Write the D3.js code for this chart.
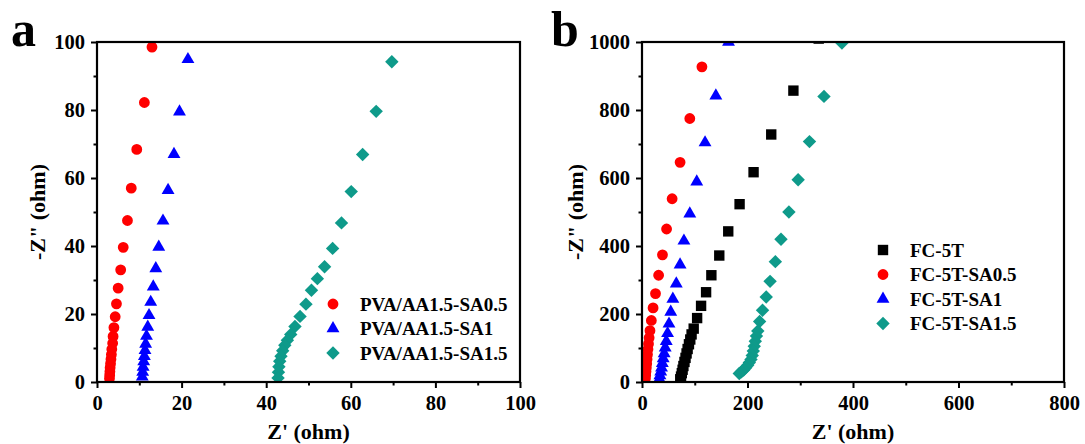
<!DOCTYPE html>
<html><head><meta charset="utf-8">
<script src="https://cdn.jsdelivr.net/npm/d3@7/dist/d3.min.js"></script>
<style>
html,body{margin:0;padding:0;background:#fff;}
svg text{font-family:"Liberation Serif","Times New Roman",serif;font-weight:bold;fill:#000;}
</style></head>
<body><svg id="c" width="1085" height="444"></svg>
<script>
// ---------- Panel a data ----------
const aSeriesNames = ["PVA/AA1.5-SA0.5", "PVA/AA1.5-SA1", "PVA/AA1.5-SA1.5"];
const aRedX = [13.0, 11.2, 9.4, 8.1, 7.2, 6.2, 5.6, 5.0, 4.6, 4.3, 4.0, 3.8, 3.7, 3.5, 3.4, 3.3, 3.2, 3.1, 3.05, 3.0, 2.95];
const aRedY = [98.5, 82.2, 68.4, 57.0, 47.5, 39.6, 33.0, 27.6, 23.0, 19.2, 16.0, 13.4, 11.4, 9.6, 8.1, 6.7, 5.4, 4.2, 3.1, 2.0, 1.0];
const aBlueX = [21.5, 19.5, 18.2, 16.8, 15.6, 14.6, 13.9, 13.3, 12.7, 12.3, 12.0, 11.7, 11.5, 11.35, 11.2, 11.05, 10.9, 10.8, 10.7];
const aBlueY = [94.9, 79.5, 67.0, 56.4, 47.4, 39.7, 33.4, 28.0, 23.5, 19.6, 16.2, 13.5, 11.2, 9.3, 7.6, 6.0, 4.4, 2.9, 1.5];
const aTealX = [69.7, 66.0, 62.8, 60.1, 57.8, 55.7, 53.8, 52.1, 50.7, 49.4, 48.0, 46.8, 45.8, 45.0, 44.4, 43.9, 43.5, 43.2, 43.0, 42.9, 42.8];
const aTealY = [94.2, 79.6, 66.9, 56.0, 46.8, 39.3, 33.9, 30.4, 27.0, 22.9, 19.3, 16.3, 14.0, 12.3, 10.8, 9.2, 7.6, 6.1, 4.5, 2.9, 1.2];
const aXTicks = [0, 20, 40, 60, 80, 100];
const aYTicks = [0, 20, 40, 60, 80, 100];

// ---------- Panel b data ----------
const bSeriesNames = ["FC-5T", "FC-5T-SA0.5", "FC-5T-SA1", "FC-5T-SA1.5"];
const bBlackX = [335, 287, 245, 211.5, 185, 163.5, 146.5, 131.5, 121.5, 112, 104.5, 98, 94, 91.5, 89, 86.5, 84.5, 82.5, 80.5, 78.5, 77, 75.5, 74, 72.5];
const bBlackY = [1010, 857, 728, 617, 523, 443, 372, 314, 264, 224, 188, 157, 140, 125, 111, 97, 84, 71, 59, 47, 36, 26, 16, 8];
const bRedX = [113.6, 90.6, 72.2, 57.1, 46.6, 38.8, 31.5, 25.6, 21.0, 17.7, 15.1, 13.5, 12.3, 11.3, 10.4, 9.6, 8.9, 8.2, 7.6, 7.0, 6.5];
const bRedY = [927, 775, 646, 539, 450, 374, 314, 260, 218, 181, 151, 130, 112, 96, 81, 67, 54, 42, 31, 20, 10];
const bBlueX = [164, 140, 119.5, 103.8, 90.6, 79.5, 72.2, 65, 58.5, 54.5, 51.2, 48.5, 46, 44, 42, 40.2, 38.5, 37, 35.5, 34, 33];
const bBlueY = [1000, 842, 704, 589, 495, 415, 345, 289, 244, 206, 171, 143, 120, 101, 84, 69, 55, 42, 30, 19, 9];
const bTealX = [379, 345, 317.5, 296, 278.5, 263.5, 252.8, 242.8, 235.5, 228.5, 223, 219.5, 217, 214.8, 212.8, 211, 209, 206.6, 203.5, 200.3, 196.5, 192.7, 188.5, 184.4];
const bTealY = [997, 840, 707, 595, 500, 420, 354, 296, 250, 211, 178, 150, 135, 120, 105, 91, 78, 66.5, 57, 49, 42, 35, 30, 25];
const bXTicks = [0, 200, 400, 600, 800];
const bYTicks = [0, 200, 400, 600, 800, 1000];

const RED = "#ff0000", BLUE = "#0000ff", TEAL = "#0e9a8a", BLACK = "#000000";

const svg = d3.select("#c");

const sym = {
  circle: {type: d3.symbolCircle, size: 92, rot: 0},
  square: {type: d3.symbolSquare, size: 108, rot: 0},
  triangle: {type: d3.symbolTriangle, size: 72, rot: 0},
  diamond: {type: d3.symbolSquare, size: 90, rot: 45}
};

function drawPanel(cfg) {
  const g = svg.append("g");
  const x = d3.scaleLinear().domain(cfg.xDomain).range([cfg.left, cfg.right]);
  const y = d3.scaleLinear().domain(cfg.yDomain).range([cfg.bottom, cfg.top]);
  const clipId = "clip" + cfg.id;
  svg.append("clipPath").attr("id", clipId).append("rect")
    .attr("x", cfg.left).attr("y", cfg.top)
    .attr("width", cfg.right - cfg.left).attr("height", cfg.bottom - cfg.top);

  // markers
  const mg = g.append("g").attr("clip-path", `url(#${clipId})`);
  cfg.series.forEach(s => {
    const m = sym[s.shape];
    const path = d3.symbol().type(m.type).size(m.size)();
    const pts = s.xs.map((v, i) => [v, s.ys[i]]);
    mg.selectAll(null).data(pts).enter().append("path")
      .attr("d", path)
      .attr("transform", d => `translate(${x(d[0])},${y(d[1])}) rotate(${m.rot})`)
      .attr("fill", s.color);
  });

  // axes
  const xAxis = d3.axisBottom(x).tickValues(cfg.xTicks).tickSize(6).tickPadding(7).tickFormat(d3.format("d"));
  const yAxis = d3.axisLeft(y).tickValues(cfg.yTicks).tickSize(6).tickPadding(6).tickFormat(d3.format("d"));
  const xMinor = d3.axisBottom(x).tickValues(cfg.xMinor).tickSize(3.5).tickFormat("");
  const yMinor = d3.axisLeft(y).tickValues(cfg.yMinor).tickSize(3.5).tickFormat("");

  const styleAxis = sel => {
    sel.selectAll("path.domain").remove();
    sel.selectAll("line").attr("stroke", "#000").attr("stroke-width", 2);
    sel.selectAll("text").style("font-size", "20.5px").attr("fill", "#000");
  };
  g.append("g").attr("transform", `translate(0,${cfg.bottom})`).call(xAxis).call(styleAxis);
  g.append("g").attr("transform", `translate(${cfg.left},0)`).call(yAxis).call(styleAxis);
  g.append("g").attr("transform", `translate(0,${cfg.bottom})`).call(xMinor).call(styleAxis);
  g.append("g").attr("transform", `translate(${cfg.left},0)`).call(yMinor).call(styleAxis);

  // frame
  g.append("rect").attr("x", cfg.left).attr("y", cfg.top)
    .attr("width", cfg.right - cfg.left).attr("height", cfg.bottom - cfg.top)
    .attr("fill", "none").attr("stroke", "#000").attr("stroke-width", 2.2);

  // titles
  g.append("text").attr("x", (cfg.left + cfg.right) / 2).attr("y", 439)
    .attr("text-anchor", "middle").style("font-size", "22px").text("Z' (ohm)");
  g.append("text").attr("transform", `translate(${cfg.yTitleX},${(cfg.top + cfg.bottom) / 2}) rotate(-90)`)
    .attr("text-anchor", "middle").attr("dy", "0.35em").style("font-size", "22px").text('-Z" (ohm)');
  g.append("text").attr("x", cfg.labelX).attr("y", 46).style("font-size", "50px").text(cfg.label);

  // legend
  cfg.series.forEach((s, i) => {
    const m = sym[s.shape];
    const ly = cfg.legendY + i * cfg.legendStep;
    g.append("path").attr("d", d3.symbol().type(m.type).size(m.size)())
      .attr("transform", `translate(${cfg.legendX},${ly}) rotate(${m.rot})`)
      .attr("fill", s.color);
    g.append("text").attr("x", cfg.legendX + 27).attr("y", ly).attr("dy", "0.35em")
      .style("font-size", "19px").text(s.name);
  });
}

drawPanel({
  id: "a", label: "a", labelX: 11,
  left: 97, right: 520, top: 42, bottom: 382,
  xDomain: [0, 100], yDomain: [0, 100],
  xTicks: aXTicks, yTicks: aYTicks,
  xMinor: [10, 30, 50, 70, 90], yMinor: [10, 30, 50, 70, 90],
  yTitleX: 37,
  legendX: 333, legendY: 304, legendStep: 24.5,
  series: [
    {name: aSeriesNames[0], xs: aRedX, ys: aRedY, color: RED, shape: "circle"},
    {name: aSeriesNames[1], xs: aBlueX, ys: aBlueY, color: BLUE, shape: "triangle"},
    {name: aSeriesNames[2], xs: aTealX, ys: aTealY, color: TEAL, shape: "diamond"}
  ]
});

drawPanel({
  id: "b", label: "b", labelX: 551,
  left: 642, right: 1064, top: 42, bottom: 382,
  xDomain: [0, 800], yDomain: [0, 1000],
  xTicks: bXTicks, yTicks: bYTicks,
  xMinor: [100, 300, 500, 700], yMinor: [100, 300, 500, 700, 900],
  yTitleX: 575,
  legendX: 883, legendY: 250, legendStep: 24.5,
  series: [
    {name: bSeriesNames[0], xs: bBlackX, ys: bBlackY, color: BLACK, shape: "square"},
    {name: bSeriesNames[1], xs: bRedX, ys: bRedY, color: RED, shape: "circle"},
    {name: bSeriesNames[2], xs: bBlueX, ys: bBlueY, color: BLUE, shape: "triangle"},
    {name: bSeriesNames[3], xs: bTealX, ys: bTealY, color: TEAL, shape: "diamond"}
  ]
});
</script></body></html>
